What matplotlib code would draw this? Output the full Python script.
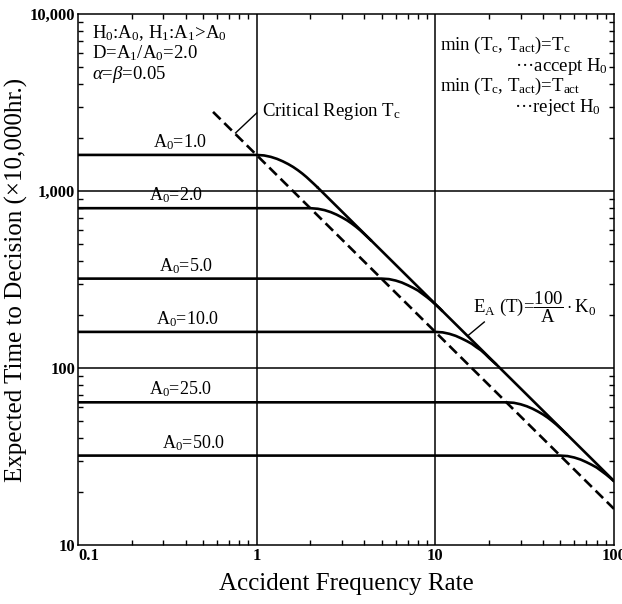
import numpy as np
import matplotlib.pyplot as plt
from matplotlib.ticker import FixedLocator, LogLocator, NullFormatter

plt.rcParams['font.family'] = ['Liberation Serif', 'DejaVu Serif']
plt.rcParams['mathtext.fontset'] = 'custom'
plt.rcParams['mathtext.rm'] = 'Liberation Serif'
plt.rcParams['mathtext.it'] = 'Liberation Serif:italic'

# A0 levels and the flat part of each curve
a0_values = [1.0, 2.0, 5.0, 10.0, 25.0, 50.0]
a0_labels = ['1.0', '2.0', '5.0', '10.0', '25.0', '50.0']
label_rate = [0.37, 0.355, 0.40, 0.41, 0.374, 0.44]

# each curve: flat from 0.1, bend, then onto E_A(T)
rate_a1 = [0.1, 1.0, 1.1, 1.2, 1.3, 1.4, 1.5, 1.6, 1.7, 1.8, 1.9, 2.0, 2.1, 2.2]
time_a1 = [1600, 1600, 1589, 1560, 1520, 1472, 1421, 1368, 1312, 1256, 1200, 1144, 1093, 1045]
rate_a2 = [0.1, 2.0, 2.2, 2.4, 2.6, 2.8, 3.0, 3.2, 3.4, 3.6, 3.8, 4.0, 4.2, 4.4]
time_a2 = [800, 800, 794, 780, 760, 736, 710, 684, 656, 628, 600, 572, 546, 522]
rate_a5 = [0.1, 5, 5.5, 6, 6.5, 7, 7.5, 8, 8.5, 9, 9.5, 10, 10.5, 11]
time_a5 = [320, 320, 318, 312, 304, 294, 284, 274, 262, 251, 240, 229, 219, 209]
rate_a10 = [0.1, 10, 11, 12, 13, 14, 15, 16, 17, 18, 19, 20, 21, 22]
time_a10 = [160, 160, 159, 156, 152, 147, 142, 137, 131, 126, 120, 114, 109, 104.5]
rate_a25 = [0.1, 25, 27.5, 30, 32.5, 35, 37.5, 40, 42.5, 45, 47.5, 50, 52.5, 55]
time_a25 = [64, 64, 63.6, 62.4, 60.8, 58.9, 56.8, 54.7, 52.5, 50.2, 48.0, 45.8, 43.7, 41.8]
rate_a50 = [0.1, 50, 55, 60, 65, 70, 75, 80, 85, 90, 95, 100]
time_a50 = [32, 32, 31.8, 31.2, 30.4, 29.4, 28.4, 27.4, 26.2, 25.1, 24.0, 22.9]

# E_A(T) = 100/A * K0 line and critical region Tc
ea_rate = [2.2, 100]
ea_time = [1045, 23]
tc_rate = [0.57, 100]
tc_time = [2800, 16]

curves = [(rate_a1, time_a1), (rate_a2, time_a2), (rate_a5, time_a5),
          (rate_a10, time_a10), (rate_a25, time_a25), (rate_a50, time_a50)]

fig = plt.figure(figsize=(6.22, 6.04), dpi=100)
ax = fig.add_axes([0.1254, 0.0977, 0.8617, 0.879])
ax.set_xscale('log')
ax.set_yscale('log')
ax.set_xlim(0.1, 100)
ax.set_ylim(10, 10000)

for x in [1, 10]:
    ax.axvline(x, color='black', lw=1.1, zorder=1)
for y in [100, 1000]:
    ax.axhline(y, color='black', lw=1.1, zorder=1)

for (r, t), lab, lx in zip(curves, a0_labels, label_rate):
    ax.plot(r, t, color='black', lw=1.9, solid_capstyle='butt', zorder=3)
    ax.text(lx, t[0] * 1.04, 'A$_0$=' + lab, ha='center', va='bottom', fontsize=13)

ax.plot(ea_rate, ea_time, color='black', lw=1.9, zorder=3)
ax.plot(tc_rate, tc_time, color='black', lw=1.9, ls=(0, (4, 2.0)), zorder=3)

# leader lines
ax.plot([0.762, 1.0], [2130, 2760], color='black', lw=1.0)
ax.plot([15.3, 18.8], [153, 182], color='black', lw=1.0)

fs = 13.5
ax.text(0.343, 0.817, 'Critical Region T$_\\mathrm{c}$', transform=ax.transAxes,
        fontsize=fs, va='center')
ax.text(0.737, 0.448, r'E$_\mathrm{A}$ (T)=$\dfrac{100}{\mathrm{A}}\cdot$K$_0$',
        transform=ax.transAxes, fontsize=fs, va='center')

ax.text(0.026, 0.964, 'H$_0$:A$_0$, H$_1$:A$_1$>A$_0$', transform=ax.transAxes,
        fontsize=fs, va='center')
ax.text(0.026, 0.927, 'D=A$_1$/A$_0$=2.0', transform=ax.transAxes, fontsize=fs, va='center')
ax.text(0.026, 0.887, r'$\alpha$=$\beta$=0.05', transform=ax.transAxes, fontsize=fs, va='center')

ax.text(0.675, 0.941, 'min (T$_\\mathrm{c}$, T$_\\mathrm{act}$)=T$_\\mathrm{c}$',
        transform=ax.transAxes, fontsize=fs, va='center')
ax.text(0.988, 0.901, '\u00b7\u00b7\u00b7accept H$_0$', transform=ax.transAxes,
        fontsize=fs, va='center', ha='right')
ax.text(0.675, 0.864, 'min (T$_\\mathrm{c}$, T$_\\mathrm{act}$)=T$_\\mathrm{act}$',
        transform=ax.transAxes, fontsize=fs, va='center')
ax.text(0.976, 0.824, '\u00b7\u00b7\u00b7reject H$_0$', transform=ax.transAxes,
        fontsize=fs, va='center', ha='right')

xticks = [0.1, 1, 10, 100]
yticks = [10, 100, 1000, 10000]
ax.xaxis.set_major_locator(FixedLocator(xticks))
ax.yaxis.set_major_locator(FixedLocator(yticks))
ax.set_xticklabels(['0.1', '1', '10', '100'], fontsize=12, fontweight='bold')
ax.set_yticklabels(['10', '100', '1,000', '10,000'], fontsize=12, fontweight='bold')
ax.xaxis.set_minor_locator(LogLocator(base=10, subs=np.arange(2, 10)))
ax.yaxis.set_minor_locator(LogLocator(base=10, subs=np.arange(2, 10)))
ax.xaxis.set_minor_formatter(NullFormatter())
ax.yaxis.set_minor_formatter(NullFormatter())
ax.tick_params(which='both', direction='in', top=True, right=True, width=1.0)
ax.tick_params(which='major', length=0, pad=2)
ax.tick_params(which='minor', length=3.8)
ax.get_xticklabels()[0].set_ha('left')
for s in ax.spines.values():
    s.set_linewidth(1.1)

ax.set_xlabel('Accident Frequency Rate', fontsize=18, labelpad=7)
ax.set_ylabel('Expected Time to Decision (\u00d710,000hr.)', fontsize=18)
ax.yaxis.set_label_coords(-0.093, 0.50)

fig.savefig('out.png', dpi=100)
